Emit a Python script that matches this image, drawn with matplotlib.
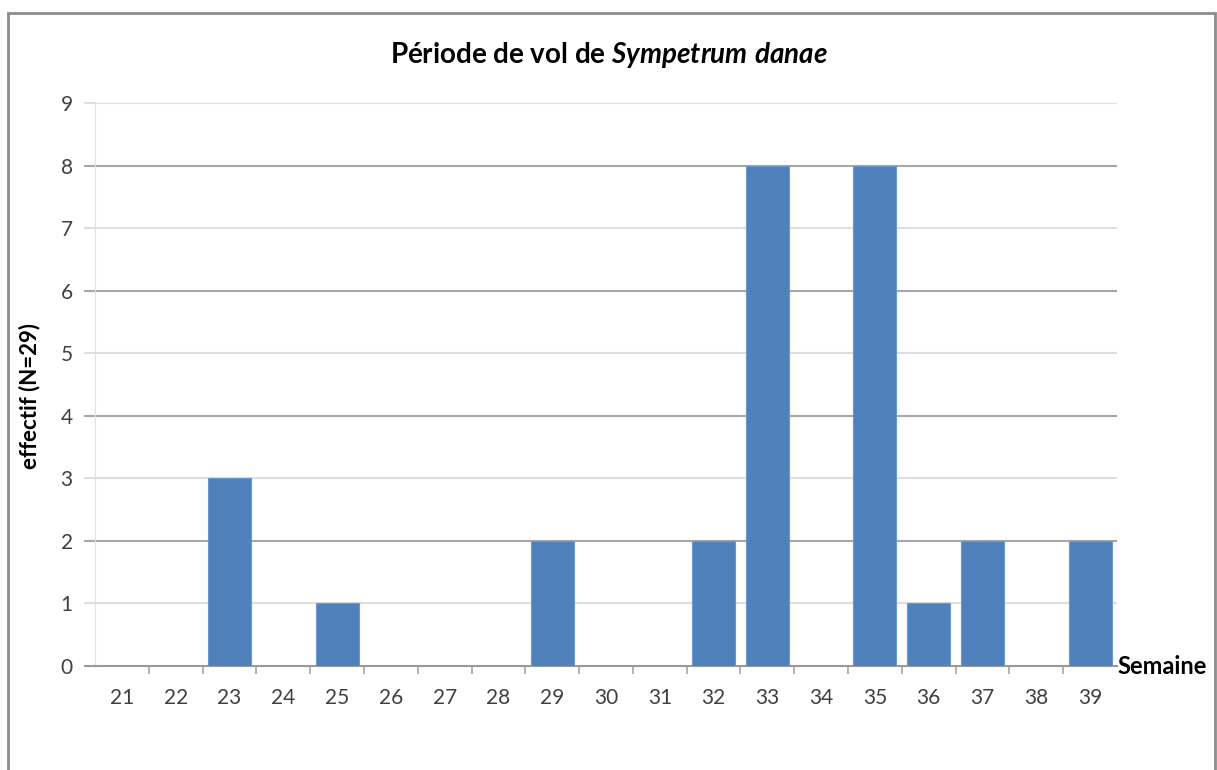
import matplotlib
matplotlib.use("Agg")
import matplotlib.pyplot as plt
from matplotlib.patches import Rectangle

weeks = ["21", "22", "23", "24", "25", "26", "27", "28", "29", "30",
         "31", "32", "33", "34", "35", "36", "37", "38", "39"]
counts = [0, 0, 3, 0, 1, 0, 0, 0, 2, 0, 0, 2, 8, 0, 8, 1, 2, 0, 2]
y_ticks = list(range(0, 10))

plt.rcParams["font.family"] = ["Lato", "DejaVu Sans"]
plt.rcParams["mathtext.fontset"] = "custom"
plt.rcParams["mathtext.rm"] = "Lato:bold"
plt.rcParams["mathtext.it"] = "Lato:bold:italic"
plt.rcParams["mathtext.bf"] = "Lato:bold"

fig = plt.figure(figsize=(12.17, 7.70), dpi=100)
fig.patch.set_facecolor("white")

# outer chart frame
fig.patches.append(Rectangle((8 / 1217, -0.05), (1215 - 8) / 1217, 1.05 - 13 / 770,
                             transform=fig.transFigure, fill=False,
                             edgecolor="#8c8c8c", linewidth=2.0))

ax = fig.add_axes([95 / 1217, 1 - 666 / 770, (1117 - 95) / 1217, (666 - 103) / 770])

x = list(range(len(weeks)))
ax.bar(x, counts, width=0.8, color="#4F81BD", edgecolor="#6b98cf",
       linewidth=0.8, zorder=3)

ax.set_xlim(-0.5, len(weeks) - 0.5)
ax.set_ylim(0, 9)
ax.set_yticks(y_ticks)
ax.set_yticklabels([str(v) for v in y_ticks], fontsize=15, color="#404040")
ax.set_xticks(x)
ax.set_xticklabels(weeks, fontsize=15, color="#404040")

# horizontal gridlines
for v in y_ticks[1:]:
    col = "#a6a6a6" if v % 2 == 0 else "#dedede"
    ax.axhline(v, color=col, linewidth=1.5, zorder=1)
    ax.plot([-0.68, -0.5], [v, v], color=col, linewidth=1.5,
            clip_on=False, zorder=1)

for s in ["top", "right"]:
    ax.spines[s].set_visible(False)
ax.spines["left"].set_color("#e0e0e0")
ax.spines["bottom"].set_color("#999999")
ax.spines["bottom"].set_linewidth(1.5)
ax.plot([-0.68, -0.5], [0, 0], color="#999999", linewidth=1.5, clip_on=False)

ax.tick_params(axis="y", length=0, pad=16)
ax.tick_params(axis="x", which="major", length=0, pad=16)
ax.set_xticks([i - 0.5 for i in range(1, len(weeks))], minor=True)
ax.tick_params(axis="x", which="minor", length=6, color="#a6a6a6", width=1.2)

ax.set_ylabel("effectif (N=29)", fontsize=16, fontweight="bold")
ax.yaxis.set_label_coords((40 - 95) / 1022, 0.48)
ax.text(1.0, 0.0, "Semaine", transform=ax.transAxes, fontsize=17,
        fontweight="bold", ha="left", va="center")

fig.text(0.5, 1 - 55 / 770, r"Période de vol de $\it{Sympetrum\ danae}$",
         ha="center", va="center", fontsize=20, fontweight="bold")

fig.savefig("out.png", dpi=100)
